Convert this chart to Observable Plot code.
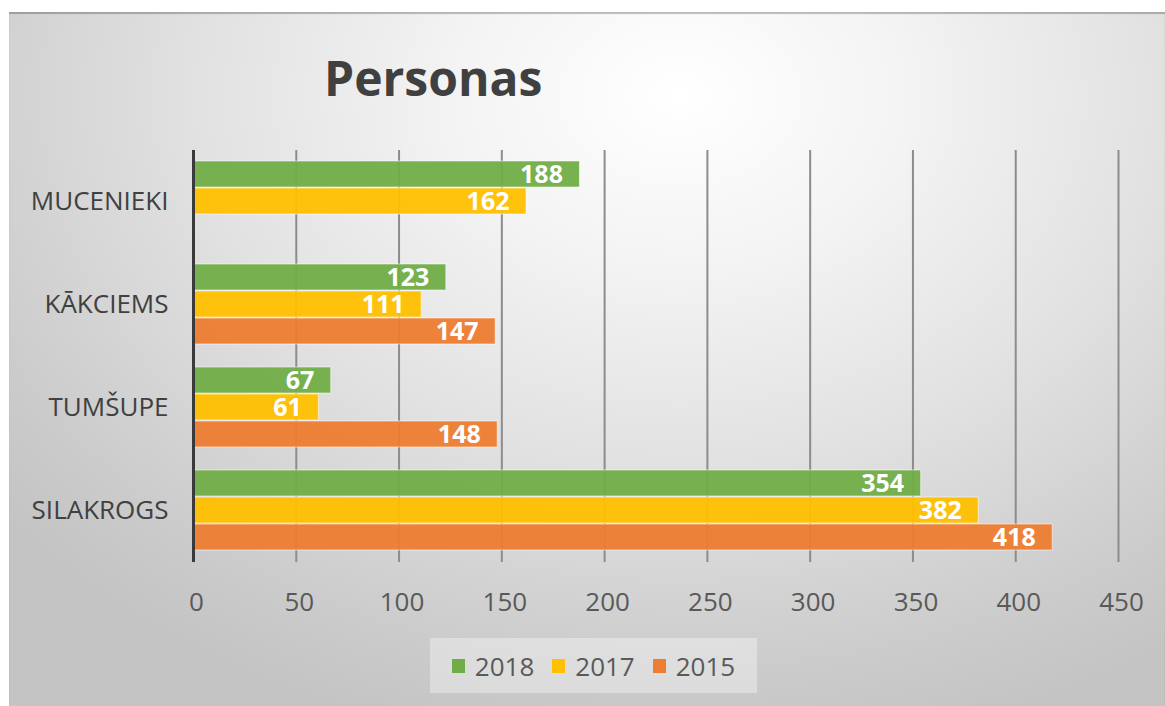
<!DOCTYPE html>
<html>
<head>
<meta charset="utf-8">
<script src="https://cdn.jsdelivr.net/npm/d3@7"></script>
<script src="https://cdn.jsdelivr.net/npm/@observablehq/plot@0.6"></script>
<style>
  html, body { margin: 0; padding: 0; background: #ffffff; }
  body { width: 1165px; height: 706px; position: relative; overflow: hidden; }
  #chart {
    position: absolute; left: 9px; top: 12px; width: 1156px; height: 694px;
    background: radial-gradient(ellipse 75% 95% at 58% 12%, #ffffff 0%, #f4f4f4 25%, #e2e2e2 55%, #cdcdcd 85%, #c4c4c4 100%);
    box-shadow: inset 0 2px 1px rgba(0,0,0,0.25);
    font-family: "Open Sans", sans-serif;
  }
  #title {
    position: absolute; left: 315px; top: 42px; line-height: 1;
    font-size: 48px; font-weight: 700; color: #404040; white-space: nowrap;
  }
  #plot { position: absolute; left: 0; top: 118px; }
  #legend {
    position: absolute; left: 421px; top: 626px; width: 327px; height: 55px;
    background: rgba(255,255,255,0.35);
    display: flex; align-items: center; justify-content: center; gap: 18px;
    font-size: 26px; color: #595959;
  }
  #legend .item { display: flex; align-items: center; gap: 10px; }
  #legend .sw { width: 13px; height: 14px; display: inline-block; }
</style>
</head>
<body>
<div id="chart">
  <div id="title">Personas</div>
  <div id="plot"></div>
  <div id="legend"></div>
</div>
<script>
const places = ["MUCENIEKI", "KĀKCIEMS", "TUMŠUPE", "SILAKROGS"];
const years = ["2018", "2017", "2015"];
const colors = ["#70AD47", "#FFC000", "#ED7D31"];
const values2018 = [188, 123, 67, 354];
const values2017 = [162, 111, 61, 382];
const values2015 = [null, 147, 148, 418];
const xTicks = [0, 50, 100, 150, 200, 250, 300, 350, 400, 450];

const series = { "2018": values2018, "2017": values2017, "2015": values2015 };
const rows = [];
places.forEach((p, i) => {
  years.forEach(y => {
    const v = series[y][i];
    if (v != null) rows.push({ place: p, year: y, value: v });
  });
});

const chart = Plot.plot({
  width: 1156,
  height: 492,
  marginLeft: 184,
  marginRight: 47,
  marginTop: 20,
  marginBottom: 60,
  style: { background: "transparent", fontFamily: "'Open Sans', sans-serif", fontSize: "26px", overflow: "visible" },
  x: { domain: [0, 450], axis: null },
  y: { domain: years, paddingInner: 0.03, paddingOuter: 0.38, axis: null },
  fy: { domain: places, paddingInner: 0, paddingOuter: 0, axis: null },
  color: { domain: years, range: colors },
  marks: [
    Plot.ruleX(xTicks.slice(1), { stroke: "#8c8c8c", strokeWidth: 2 }),
    Plot.barX(rows, { x: "value", y: "year", fy: "place", fill: "year", fillOpacity: 0.95, stroke: "#ffffff", strokeOpacity: 0.55, strokeWidth: 1 }),
    Plot.text(rows, { x: "value", y: "year", fy: "place", text: d => String(d.value), textAnchor: "end", dx: -17, fill: "#ffffff", fontWeight: "bold", fontSize: 25 }),
    Plot.ruleX([0], { stroke: "#3a3a3a", strokeWidth: 3 }),
    Plot.axisX(xTicks, { tickSize: 0, tickPadding: 30, color: "#595959", label: null, fontSize: 26, dx: 3 }),
    Plot.axisFy({ anchor: "left", tickSize: 0, tickPadding: 25, color: "#404040", label: null, fontSize: 26 })
  ]
});
document.getElementById("plot").appendChild(chart);

const legend = document.getElementById("legend");
years.forEach((y, i) => {
  const item = document.createElement("span");
  item.className = "item";
  const sw = document.createElement("span");
  sw.className = "sw";
  sw.style.background = colors[i];
  const t = document.createElement("span");
  t.textContent = y;
  item.appendChild(sw);
  item.appendChild(t);
  legend.appendChild(item);
});
</script>
</body>
</html>
